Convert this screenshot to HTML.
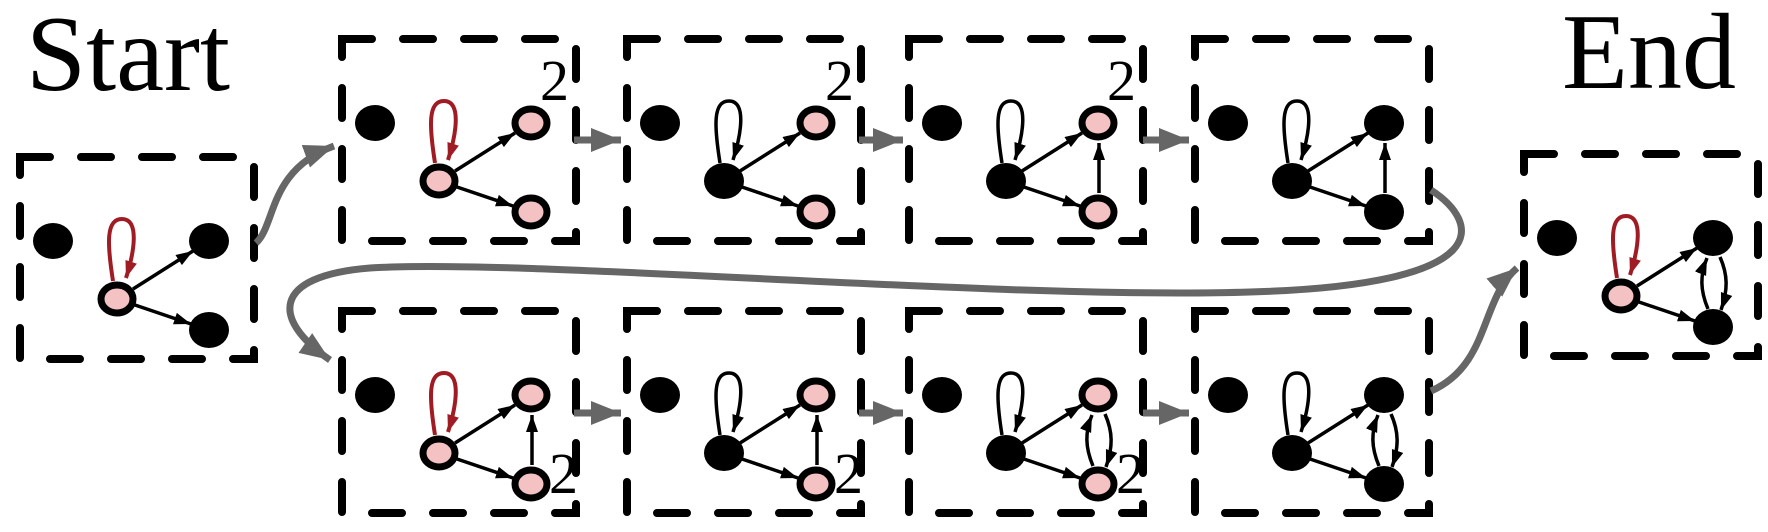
<!DOCTYPE html>
<html><head><meta charset="utf-8"><style>
html,body{margin:0;padding:0;background:#fff;}
svg{display:block;}
text{font-family:"Liberation Serif",serif;fill:#000;}
</style></head><body>
<svg width="1768" height="532" viewBox="0 0 1768 532" xmlns="http://www.w3.org/2000/svg">
<defs>
<marker id="ab" markerUnits="userSpaceOnUse" markerWidth="20" markerHeight="14" refX="17" refY="6" orient="auto"><path d="M0,0 L17,6 L0,12 z" fill="#000"/></marker>
<marker id="ar" markerUnits="userSpaceOnUse" markerWidth="20" markerHeight="14" refX="17" refY="6" orient="auto"><path d="M0,0 L17,6 L0,12 z" fill="#a01c24"/></marker>
<marker id="ag" markerUnits="userSpaceOnUse" markerWidth="34" markerHeight="28" refX="30" refY="12" orient="auto"><path d="M0,0 L30,12 L0,24 z" fill="#666"/></marker>
<rect id="box" x="4" y="4" width="234" height="202" fill="none" stroke="#000" stroke-width="8" stroke-dasharray="30 31" stroke-linecap="round"/>
<g id="e1">
<line x1="117" y1="136" x2="177" y2="98" stroke="#000" stroke-width="3.5" marker-end="url(#ab)"/>
<line x1="119" y1="152" x2="175" y2="171" stroke="#000" stroke-width="3.5" marker-end="url(#ab)"/>
</g>
<path id="loopB" d="M97,128 C91,90 90,66 106,66 C124,66 118,100 110,125" fill="none" stroke="#000" stroke-width="3.5" marker-end="url(#ab)"/>
<path id="loopR" d="M97,128 C91,90 90,66 106,66 C124,66 118,100 110,125" fill="none" stroke="#a01c24" stroke-width="4" marker-end="url(#ar)"/>
<line id="vert" x1="194" y1="158" x2="194" y2="108" stroke="#000" stroke-width="3.5" marker-end="url(#ab)"/>
<g id="two">
<path d="M188,159 C180,140 180,125 187,108" fill="none" stroke="#000" stroke-width="3.5" marker-end="url(#ab)"/>
<path d="M200,107 C208,125 208,140 201,160" fill="none" stroke="#000" stroke-width="3.5" marker-end="url(#ab)"/>
</g>
<ellipse id="iso" cx="37" cy="88" rx="20" ry="18" fill="#000"/>
</defs>

<text x="26" y="90" font-size="108">Start</text>
<text x="1562" y="88" font-size="108">End</text>

<g transform="translate(16,153)">
<use href="#box"/><use href="#iso"/><use href="#e1"/><use href="#loopR"/>
<ellipse cx="101" cy="146" rx="16" ry="14" fill="#f4c2c2" stroke="#000" stroke-width="7"/>
<ellipse cx="193" cy="88" rx="20" ry="18"/>
<ellipse cx="193" cy="177" rx="20" ry="18"/>
</g>

<g transform="translate(338,35)">
<use href="#box"/><use href="#iso"/><use href="#e1"/><use href="#loopR"/>
<ellipse cx="101" cy="146" rx="16" ry="14" fill="#f4c2c2" stroke="#000" stroke-width="7"/>
<ellipse cx="193" cy="88" rx="16" ry="14" fill="#f4c2c2" stroke="#000" stroke-width="7"/>
<ellipse cx="193" cy="177" rx="16" ry="14" fill="#f4c2c2" stroke="#000" stroke-width="7"/>
<text x="202" y="65" font-size="58">2</text>
</g>
<g transform="translate(623,35)">
<use href="#box"/><use href="#iso"/><use href="#e1"/><use href="#loopB"/>
<ellipse cx="101" cy="146" rx="20" ry="18"/>
<ellipse cx="193" cy="88" rx="16" ry="14" fill="#f4c2c2" stroke="#000" stroke-width="7"/>
<ellipse cx="193" cy="177" rx="16" ry="14" fill="#f4c2c2" stroke="#000" stroke-width="7"/>
<text x="202" y="65" font-size="58">2</text>
</g>
<g transform="translate(905,35)">
<use href="#box"/><use href="#iso"/><use href="#e1"/><use href="#loopB"/><use href="#vert"/>
<ellipse cx="101" cy="146" rx="20" ry="18"/>
<ellipse cx="193" cy="88" rx="16" ry="14" fill="#f4c2c2" stroke="#000" stroke-width="7"/>
<ellipse cx="193" cy="177" rx="16" ry="14" fill="#f4c2c2" stroke="#000" stroke-width="7"/>
<text x="202" y="65" font-size="58">2</text>
</g>
<g transform="translate(1191,35)">
<use href="#box"/><use href="#iso"/><use href="#e1"/><use href="#loopB"/><use href="#vert"/>
<ellipse cx="101" cy="146" rx="20" ry="18"/>
<ellipse cx="193" cy="88" rx="20" ry="18"/>
<ellipse cx="193" cy="177" rx="20" ry="18"/>
</g>

<g transform="translate(338,307)">
<use href="#box"/><use href="#iso"/><use href="#e1"/><use href="#loopR"/><use href="#vert"/>
<ellipse cx="101" cy="146" rx="16" ry="14" fill="#f4c2c2" stroke="#000" stroke-width="7"/>
<ellipse cx="193" cy="88" rx="16" ry="14" fill="#f4c2c2" stroke="#000" stroke-width="7"/>
<ellipse cx="193" cy="177" rx="16" ry="14" fill="#f4c2c2" stroke="#000" stroke-width="7"/>
<text x="211" y="186" font-size="58">2</text>
</g>
<g transform="translate(623,307)">
<use href="#box"/><use href="#iso"/><use href="#e1"/><use href="#loopB"/><use href="#vert"/>
<ellipse cx="101" cy="146" rx="20" ry="18"/>
<ellipse cx="193" cy="88" rx="16" ry="14" fill="#f4c2c2" stroke="#000" stroke-width="7"/>
<ellipse cx="193" cy="177" rx="16" ry="14" fill="#f4c2c2" stroke="#000" stroke-width="7"/>
<text x="211" y="186" font-size="58">2</text>
</g>
<g transform="translate(905,307)">
<use href="#box"/><use href="#iso"/><use href="#e1"/><use href="#loopB"/><use href="#two"/>
<ellipse cx="101" cy="146" rx="20" ry="18"/>
<ellipse cx="193" cy="88" rx="16" ry="14" fill="#f4c2c2" stroke="#000" stroke-width="7"/>
<ellipse cx="193" cy="177" rx="16" ry="14" fill="#f4c2c2" stroke="#000" stroke-width="7"/>
<text x="211" y="186" font-size="58">2</text>
</g>
<g transform="translate(1191,307)">
<use href="#box"/><use href="#iso"/><use href="#e1"/><use href="#loopB"/><use href="#two"/>
<ellipse cx="101" cy="146" rx="20" ry="18"/>
<ellipse cx="193" cy="88" rx="20" ry="18"/>
<ellipse cx="193" cy="177" rx="20" ry="18"/>
</g>

<g transform="translate(1520,150)">
<use href="#box"/><use href="#iso"/><use href="#e1"/><use href="#loopR"/><use href="#two"/>
<ellipse cx="101" cy="146" rx="16" ry="14" fill="#f4c2c2" stroke="#000" stroke-width="7"/>
<ellipse cx="193" cy="88" rx="20" ry="18"/>
<ellipse cx="193" cy="177" rx="20" ry="18"/>
</g>

<g stroke="#666" stroke-width="7" fill="none">
<line x1="574" y1="140" x2="621" y2="140" marker-end="url(#ag)"/>
<line x1="859" y1="140" x2="903" y2="140" marker-end="url(#ag)"/>
<line x1="1143" y1="140" x2="1189" y2="140" marker-end="url(#ag)"/>
<line x1="574" y1="413" x2="621" y2="413" marker-end="url(#ag)"/>
<line x1="859" y1="413" x2="903" y2="413" marker-end="url(#ag)"/>
<line x1="1143" y1="413" x2="1189" y2="413" marker-end="url(#ag)"/>
<path d="M256,243 C276,225 268,170 334,146" marker-end="url(#ag)"/>
<path d="M1431,190 C1480,222 1500,285 1250,292 C1000,300 520,258 370,268 C270,276 272,320 330,360" marker-end="url(#ag)"/>
<path d="M1431,391 C1490,365 1480,300 1517,268" marker-end="url(#ag)"/>
</g>
</svg>
</body></html>
